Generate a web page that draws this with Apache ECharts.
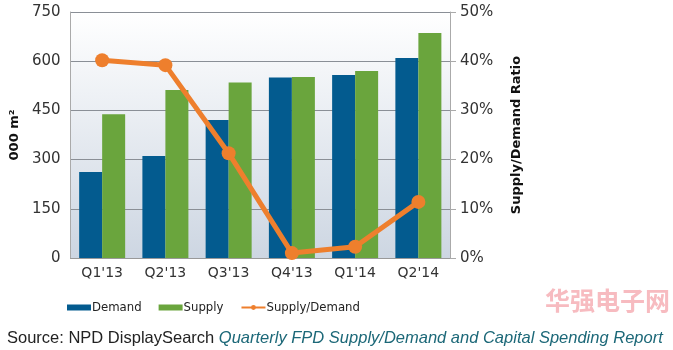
<!DOCTYPE html>
<html><head><meta charset="utf-8">
<script src="https://cdn.jsdelivr.net/npm/echarts@6/dist/echarts.min.js"></script>
<style>html,body{margin:0;padding:0;background:#fff}#c{width:673px;height:350px}</style>
</head><body><div id="c"></div>
<script>
const categories = ["Q1'13","Q2'13","Q3'13","Q4'13","Q1'14","Q2'14"];
const demand = [262, 311, 421, 550, 558, 610];
const supply = [438, 512, 535, 552, 570, 686];
const ratio = [40.2, 39.2, 21.3, 1.0, 2.3, 11.4];
const leftTicks = [0, 150, 300, 450, 600, 750];
const rightTicks = [0, 10, 20, 30, 40, 50];

const chart = echarts.init(document.getElementById('c'), null, {renderer: 'canvas'});
const font = 'Verdana, "DejaVu Sans", sans-serif';
chart.setOption({
  animation: false,
  grid: {left: 70, right: 223, top: 12, bottom: 92,
    show: true, borderWidth: 0,
    backgroundColor: new echarts.graphic.LinearGradient(0,0,0,1,[{offset:0,color:'#ffffff'},{offset:1,color:'#cdd6e2'}])},
  legend: {
    left: 62, top: 296, itemWidth: 24, itemHeight: 6, itemGap: 17,
    textStyle: {fontFamily: '"DejaVu Sans Condensed", "DejaVu Sans", sans-serif', fontSize: 13, color: '#222', padding: [0,0,0,-4]},
    data: [{name:'Demand', icon:'rect'}, {name:'Supply', icon:'rect'}, {name:'Supply/Demand'}]
  },
  xAxis: {
    type: 'category', data: categories,
    axisLine: {lineStyle: {color: '#999'}},
    axisTick: {show: false},
    axisLabel: {fontFamily: font, fontSize: 14, color: '#333', margin: 8}
  },
  yAxis: [{
    type: 'value', min: 0, max: 750, interval: 150,
    name: '000 m²', nameLocation: 'middle', nameGap: 43, nameRotate: 90,
    nameTextStyle: {fontFamily: font, fontSize: 13, fontWeight: 'bold', color: '#111'},
    axisLine: {show: true, lineStyle: {color: '#aaa'}},
    axisTick: {show: false},
    axisLabel: {fontFamily: font, fontSize: 15, color: '#333', margin: 10},
    splitLine: {lineStyle: {color: '#8a8f96', width: 1}}
  }, {
    type: 'value', min: 0, max: 50, interval: 10,
    name: 'Supply/Demand Ratio', nameLocation: 'middle', nameGap: 60, nameRotate: 90,
    nameTextStyle: {fontFamily: font, fontSize: 13, fontWeight: 'bold', color: '#111'},
    axisLine: {show: true, lineStyle: {color: '#aaa'}},
    axisTick: {show: true, length: 6, inside: false, lineStyle: {color: '#aaa'}},
    axisLabel: {fontFamily: font, fontSize: 15, color: '#333', margin: 10, formatter: '{value}%'},
    splitLine: {show: false}
  }],
  series: [{
    name: 'Demand', type: 'bar', data: demand, barWidth: 23, barGap: '0%',
    itemStyle: {color: '#035b8f'}
  }, {
    name: 'Supply', type: 'bar', data: supply, barWidth: 23,
    itemStyle: {color: '#6aa53d'}
  }, {
    name: 'Supply/Demand', type: 'line', yAxisIndex: 1, data: ratio,
    symbol: 'circle', symbolSize: 14,
    lineStyle: {color: '#ee7f2d', width: 5},
    itemStyle: {color: '#ee7f2d'}
  }],
  graphic: [{
    type: 'text', left: 7, top: 330,
    style: {
      text: '{a|Source: NPD DisplaySearch }{b|Quarterly FPD Supply/Demand and Capital Spending Report}',
      rich: {
        a: {fontFamily: 'Liberation Sans, Arial, sans-serif', fontSize: 16.5, fill: '#222'},
        b: {fontFamily: 'Liberation Sans, Arial, sans-serif', fontSize: 16.5, fontStyle: 'italic', fill: '#1c6878'}
      }
    }
  }, {
    type: 'text', left: 545, top: 288, z: -1,
    style: {text: '华强电子网', fontFamily: '"Noto Sans CJK SC", sans-serif', fontSize: 25, fontWeight: 'bold', fill: 'rgba(240,120,130,0.5)'}
  }]
});
</script></body></html>
